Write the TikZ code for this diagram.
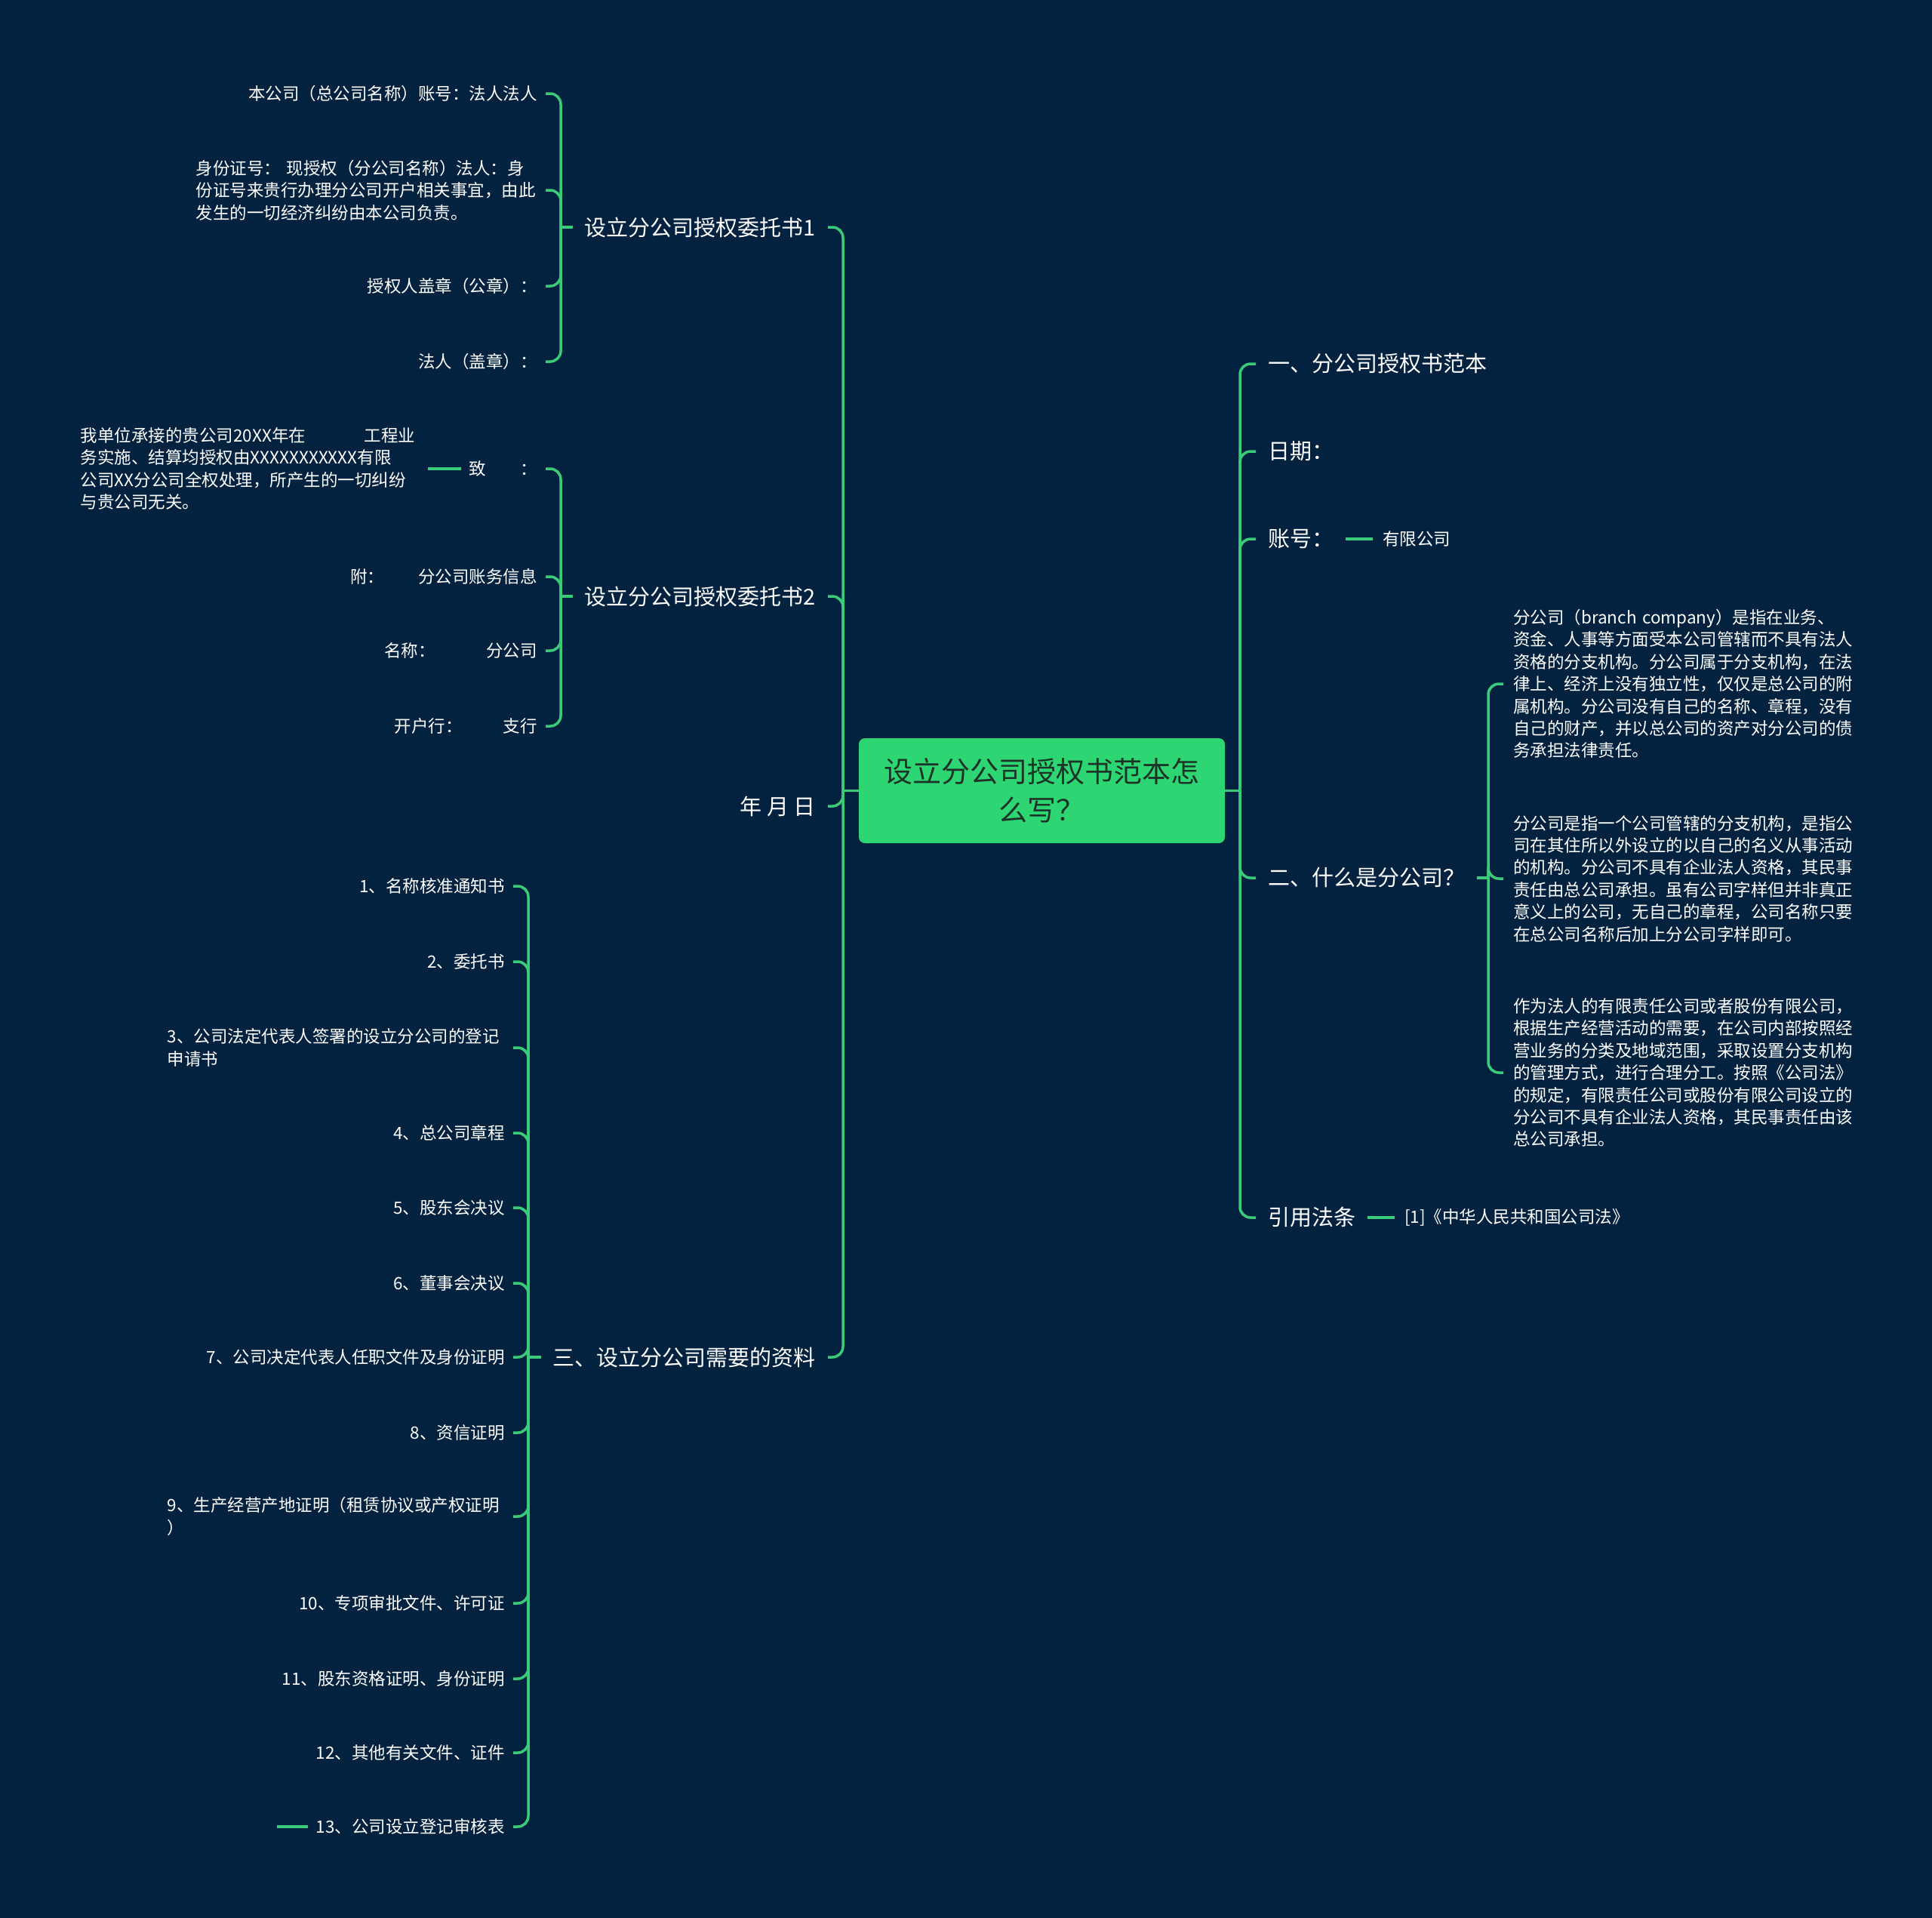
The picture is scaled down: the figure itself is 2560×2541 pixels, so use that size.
\documentclass[tikz,border=0pt]{standalone}
\usepackage{fontspec}
\setmainfont{Noto Sans CJK SC}
\definecolor{bgc}{RGB}{3,34,64}
\definecolor{lnc}{RGB}{58,204,120}
\definecolor{rootc}{RGB}{46,214,115}
\definecolor{roottxt}{RGB}{28,52,40}
\begin{document}
\begin{tikzpicture}[x=1pt,y=-1pt,
  edge/.style={draw=lnc,line width=3.5pt,rounded corners=14pt},
  lvone/.style={font=\fontsize{29pt}{36pt}\selectfont,text=white,inner xsep=16pt,inner ysep=4pt,yshift=-2pt},
  lvtwo/.style={font=\fontsize{22.5pt}{29.4pt}\selectfont,text=white,inner xsep=11pt,inner ysep=4pt,yshift=-2pt},
  para/.style={lvtwo,align=left,text width=#1},
  rootbox/.style={fill=rootc,rounded corners=8pt,minimum width=485pt,minimum height=139pt,inner sep=0pt,
    font=\fontsize{38pt}{51pt}\selectfont,text=roottxt,align=center,text width=440pt}
]
\fill[bgc] (0,0) rectangle (2560,2541);
\useasboundingbox (0,0) rectangle (2560,2541);

% root
\node[rootbox] (root) at (1380.5,1047.5) {设立分公司授权书范本怎\\么写？};
\coordinate (LV) at (1117,1047.5);
\coordinate (RV) at (1643,1047.5);

% left level one
\node[lvone,anchor=east] (A1) at (1097,299) {设立分公司授权委托书1};
\node[lvone,anchor=east] (A2) at (1097,788) {设立分公司授权委托书2};
\node[lvone,anchor=east] (A3) at (1097,1066) {年 月 日};
\node[lvone,anchor=east] (A4) at (1097,1796) {三、设立分公司需要的资料};

% subtree 1
\coordinate (V1) at (743,301);
\node[lvtwo,anchor=east] (a11) at (723,122) {本公司（总公司名称）账号：法人法人};
\node[para=452pt,anchor=east] (a12) at (723,250) {身份证号： 现授权（分公司名称）法人：身\\份证号来贵行办理分公司开户相关事宜，由此\\发生的一切经济纠纷由本公司负责。};
\node[lvtwo,anchor=east] (a13) at (723,377) {授权人盖章（公章）：};
\node[lvtwo,anchor=east] (a14) at (723,477) {法人（盖章）：};

% subtree 2
\coordinate (V2) at (743,790);
\node[lvtwo,anchor=east] (a21) at (723,619) {致　　：};
\node[para=442pt,anchor=east,inner xsep=18pt] (a211) at (567,619) {我单位承接的贵公司20XX年在\hspace*{3.45em}工程业\\务实施、结算均授权由XXXXXXXXXXX有限\\公司XX分公司全权处理，所产生的一切纠纷\\与贵公司无关。};
\node[lvtwo,anchor=east] (a22) at (723,762) {附：　　分公司账务信息};
\node[lvtwo,anchor=east] (a23) at (723,860) {名称：　　　分公司};
\node[lvtwo,anchor=east] (a24) at (723,960) {开户行：\hspace*{2.4em}支行};

% subtree 3
\coordinate (V3) at (700,1798);
\node[lvtwo,anchor=east] (b1) at (680,1172) {1、名称核准通知书};
\node[lvtwo,anchor=east] (b2) at (680,1272) {2、委托书};
\node[para=447pt,anchor=east] (b3) at (680,1386) {3、公司法定代表人签署的设立分公司的登记\\申请书};
\node[lvtwo,anchor=east] (b4) at (680,1499) {4、总公司章程};
\node[lvtwo,anchor=east] (b5) at (680,1598) {5、股东会决议};
\node[lvtwo,anchor=east] (b6) at (680,1698) {6、董事会决议};
\node[lvtwo,anchor=east] (b7) at (680,1796) {7、公司决定代表人任职文件及身份证明};
\node[lvtwo,anchor=east] (b8) at (680,1896) {8、资信证明};
\node[para=447pt,anchor=east] (b9) at (680,2007) {9、生产经营产地证明（租赁协议或产权证明\\）};
\node[lvtwo,anchor=east] (b10) at (680,2122) {10、专项审批文件、许可证};
\node[lvtwo,anchor=east] (b11) at (680,2222) {11、股东资格证明、身份证明};
\node[lvtwo,anchor=east] (b12) at (680,2320) {12、其他有关文件、证件};
\node[lvtwo,anchor=east] (b13) at (680,2418) {13、公司设立登记审核表};
\coordinate (b131) at (367,2420);

% right side
\node[lvone,anchor=west] (r1) at (1664,480) {一、分公司授权书范本};
\node[lvone,anchor=west] (r2) at (1664,596) {日期：};
\node[lvone,anchor=west] (r3) at (1664,712) {账号：};
\node[lvtwo,anchor=west,inner xsep=13pt] (r31) at (1819,712) {有限公司};
\node[lvone,anchor=west] (r4) at (1664,1161) {二、什么是分公司？};
\coordinate (V4) at (1972,1163);
\node[para=452pt,anchor=west,inner xsep=13pt] (p1) at (1992,904) {分公司（branch company）是指在业务、\\资金、人事等方面受本公司管辖而不具有法人\\资格的分支机构。分公司属于分支机构，在法\\律上、经济上没有独立性，仅仅是总公司的附\\属机构。分公司没有自己的名称、章程，没有\\自己的财产，并以总公司的资产对分公司的债\\务承担法律责任。};
\node[para=452pt,anchor=west,inner xsep=13pt] (p2) at (1992,1162) {分公司是指一个公司管辖的分支机构，是指公\\司在其住所以外设立的以自己的名义从事活动\\的机构。分公司不具有企业法人资格，其民事\\责任由总公司承担。虽有公司字样但并非真正\\意义上的公司，无自己的章程，公司名称只要\\在总公司名称后加上分公司字样即可。};
\node[para=452pt,anchor=west,inner xsep=13pt] (p3) at (1992,1419) {作为法人的有限责任公司或者股份有限公司，\\根据生产经营活动的需要，在公司内部按照经\\营业务的分类及地域范围，采取设置分支机构\\的管理方式，进行合理分工。按照《公司法》\\的规定，有限责任公司或股份有限公司设立的\\分公司不具有企业法人资格，其民事责任由该\\总公司承担。};
\node[lvone,anchor=west] (r5) at (1664,1611) {引用法条};
\node[lvtwo,anchor=west,inner xsep=13pt] (r51) at (1848,1611) {[1]《中华人民共和国公司法》};

% connectors
\draw[edge] (root.west) -- (LV);
\foreach \c in {A1,A2,A3,A4} \draw[edge] (\c.east) -| (LV);
\draw[edge] (root.east) -- (RV);
\foreach \c in {r1,r2,r3,r4,r5} \draw[edge] (\c.west) -| (RV);

\draw[edge] (A1.west) -- (V1);
\foreach \c in {a11,a12,a13,a14} \draw[edge] (\c.east) -| (V1);
\draw[edge] (A2.west) -- (V2);
\foreach \c in {a21,a22,a23,a24} \draw[edge] (\c.east) -| (V2);
\draw[edge] (a21.west) -- (a211.east);
\draw[edge] (A4.west) -- (V3);
\foreach \c in {b1,b2,b3,b4,b5,b6,b7,b8,b9,b10,b11,b12,b13} \draw[edge] (\c.east) -| (V3);
\draw[edge] (b13.west) -- (b131);

\draw[edge] (r3.east) -- (r31.west);
\draw[edge] (r4.east) -- (V4);
\foreach \c in {p1,p2,p3} \draw[edge] (\c.west) -| (V4);
\draw[edge] (r5.east) -- (r51.west);
\end{tikzpicture}
\end{document}
